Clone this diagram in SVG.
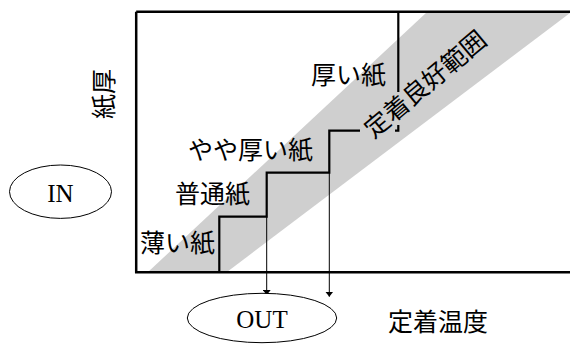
<svg xmlns="http://www.w3.org/2000/svg" width="570" height="344" viewBox="0 0 570 344">
<defs>
<style>
.jp{font-family:"Noto Sans CJK JP","Noto Sans CJK SC",sans-serif;font-size:25px;fill:#000}
.en{font-family:"Liberation Serif",serif;font-size:25px;fill:#000}
.node{fill:#fff;stroke:#000;stroke-width:1}
.thick{fill:none;stroke:#000;stroke-width:2.2}
.thin{fill:none;stroke:#000;stroke-width:1}
</style>
<marker id="ah" viewBox="0 0 10 10" refX="10" refY="5" markerWidth="5" markerHeight="8" markerUnits="userSpaceOnUse" orient="auto" preserveAspectRatio="none">
<path d="M0,0 L10,5 L0,10 Z" fill="#000"/>
</marker>
</defs>
<rect width="570" height="344" fill="#fff"/>
<g id="chart">
<polygon points="148,272 427,12 570,12 570,13 227,272" fill="#cfcfcf"/>
<path d="M136.2,11.7 H572 M136.2,11.7 V272.3 H572" fill="none" stroke="#000" stroke-width="2.5"/>
<path class="thick" d="M219.3,272 V216.7 H266.7 V172.7 H329.3 V130.7 H360"/>
<path class="thick" d="M395,130.7 H398.3 V125"/>
<path class="thick" d="M398.3,12 V92"/>
<text class="jp" x="311" y="84">厚い紙</text>
<text class="jp" x="188" y="159">やや厚い紙</text>
<text class="jp" x="175" y="203">普通紙</text>
<text class="jp" x="140" y="252">薄い紙</text>
<text class="jp" text-anchor="middle" transform="translate(431,91) rotate(-40)">定着良好範囲</text>
<text class="jp" text-anchor="middle" transform="translate(112.5,94) rotate(-90)">紙厚</text>
<text class="jp" x="388" y="331">定着温度</text>
</g>
<g id="connectors">
<path class="thin" d="M266.7,216.7 V295" marker-end="url(#ah)"/>
<path class="thin" d="M329.3,172.7 V296.7" marker-end="url(#ah)"/>
</g>
<g id="in">
<ellipse class="node" cx="60.5" cy="191.7" rx="51" ry="26.7"/>
<text class="en" x="60.5" y="201.5" text-anchor="middle">IN</text>
</g>
<g id="out">
<ellipse class="node" cx="262" cy="318" rx="74.7" ry="24.7"/>
<text class="en" x="262" y="328.3" text-anchor="middle">OUT</text>
</g>
</svg>
